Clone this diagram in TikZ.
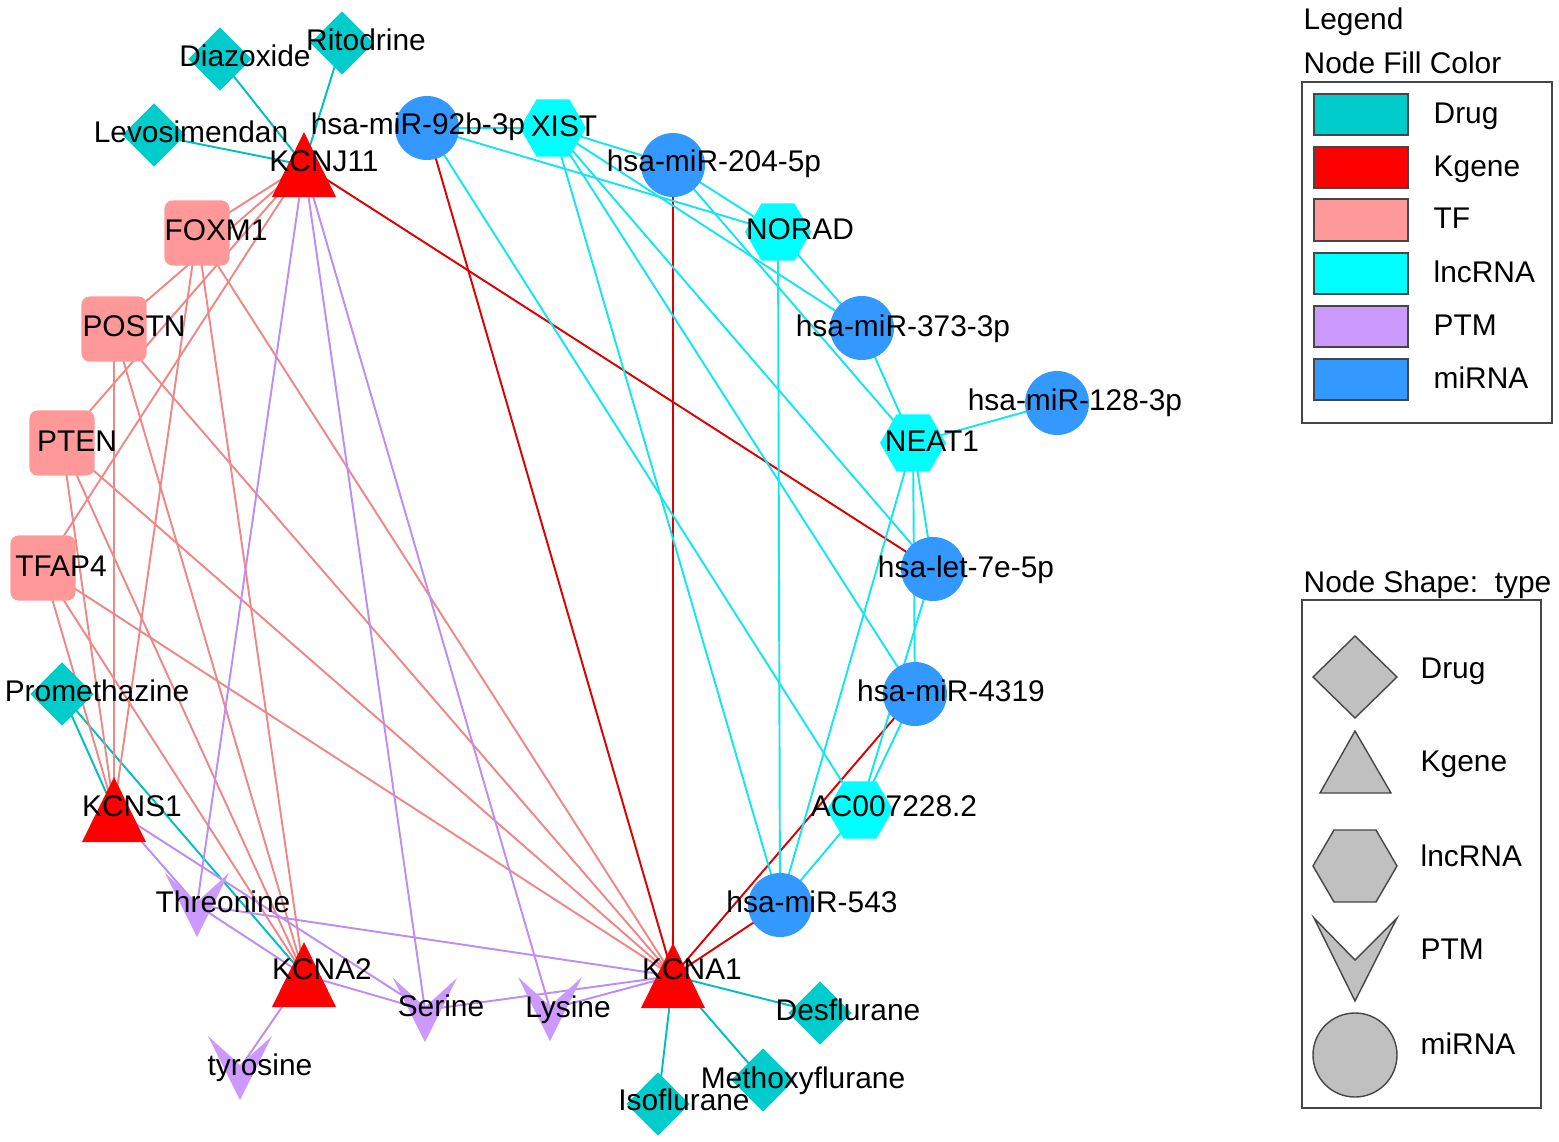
\documentclass[tikz,border=0pt]{standalone}
\usepackage{fontspec}
\setmainfont{Liberation Sans}
\usetikzlibrary{shapes.geometric}
\definecolor{drugc}{RGB}{0,204,204}
\definecolor{kc}{RGB}{255,0,0}
\definecolor{tfc}{RGB}{255,153,153}
\definecolor{lncc}{RGB}{0,255,255}
\definecolor{ptmc}{RGB}{204,153,255}
\definecolor{mic}{RGB}{51,153,255}
\definecolor{drugedge}{RGB}{0,190,195}
\definecolor{tfedge}{RGB}{240,135,135}
\definecolor{lncedge}{RGB}{20,230,240}
\definecolor{ptmedge}{RGB}{190,140,245}
\definecolor{kedge}{RGB}{220,0,0}
\definecolor{legfill}{RGB}{192,192,192}
\definecolor{legline}{RGB}{70,70,70}
\pgfdeclarelayer{edges}
\pgfsetlayers{edges,main}
\begin{document}
\begin{tikzpicture}[x=0.01cm,y=-0.01cm,
  font=\fontsize{8.5}{10}\selectfont,
  hid/.style={inner sep=0,minimum size=0.64cm},
  mirna/.style={circle,fill=mic,inner sep=0,minimum size=0.64cm},
  lnc/.style={regular polygon,regular polygon sides=6,fill=lncc,inner sep=0,minimum size=0.66cm},
  drug/.style={diamond,fill=drugc,inner sep=0,minimum width=0.64cm,minimum height=0.64cm},
  tf/.style={rectangle,rounded corners=0.08cm,fill=tfc,inner sep=0,minimum size=0.65cm},
  lab/.style={anchor=base,inner sep=0},
  llab/.style={anchor=base west,inner sep=0},
  ktri/.pic={\fill[kc] (-32,32) -- (0,-33) -- (32,32) -- cycle;},
  chev/.pic={\fill[ptmc] (-32,-32) -- (0,-3) -- (32,-32) -- (0,32) -- cycle;},
  edg/.style={line width=0.55pt},
  legbox/.style={draw=legline,line width=0.5pt},
  swatch/.style={draw=legline,line width=0.4pt},
  legshape/.style={fill=legfill,draw=legline,line width=0.4pt}
]
\useasboundingbox (0,0) rectangle (1559,1142);

% ---------- nodes ----------
\node[drug] (diaz) at (220,59) {};
\node[drug] (rito) at (342,43) {};
\node[drug] (levo) at (154,135) {};
\node[drug] (prom) at (62,694) {};
\node[drug] (desf) at (820,1013) {};
\node[drug] (meth) at (763,1080) {};
\node[drug] (isof) at (658,1104) {};

\node[tf] (foxm1) at (197,233) {};
\node[tf] (postn) at (114,329) {};
\node[tf] (pten) at (62,443) {};
\node[tf] (tfap4) at (43,568) {};

\node[mirna] (m92b) at (427,128) {};
\node[mirna] (m204) at (673,165) {};
\node[mirna] (m373) at (862,328) {};
\node[mirna] (m128) at (1057,403) {};
\node[mirna] (let7e) at (933,569) {};
\node[mirna] (m4319) at (915,694) {};
\node[mirna] (m543) at (780,905) {};

\node[lnc] (xist) at (553,128) {};
\node[lnc] (norad) at (778,232) {};
\node[lnc] (neat1) at (913,443) {};
\node[lnc] (ac) at (860,810) {};

\node[hid] (kj11) at (304,165) {};
\node[hid] (ks1) at (114,810) {};
\node[hid] (ka2) at (304,975) {};
\node[hid] (ka1) at (673,976) {};
\pic at (kj11) {ktri};
\pic at (ks1) {ktri};
\pic at (ka2) {ktri};
\pic at (ka1) {ktri};

\node[hid] (thr) at (197,905) {};
\node[hid] (ser) at (425,1010) {};
\node[hid] (lys) at (550,1009) {};
\node[hid] (tyr) at (240,1068) {};
\pic at (thr) {chev};
\pic at (ser) {chev};
\pic at (lys) {chev};
\pic at (tyr) {chev};

% ---------- edges ----------
\begin{pgfonlayer}{edges}
\foreach \a/\b in {diaz/kj11,rito/kj11,levo/kj11,prom/ks1,prom/ka2,desf/ka1,meth/ka1,isof/ka1}
  \draw[edg,drugedge] (\a.center) -- (\b.center);
\foreach \a in {foxm1,postn,pten,tfap4}
  \foreach \b in {kj11,ks1,ka2,ka1}
    \draw[edg,tfedge] (\a.center) -- (\b.center);
\foreach \a/\b in {kj11/thr,kj11/ser,kj11/lys,ks1/thr,ks1/ser,ka2/thr,ka2/ser,ka2/tyr,ka1/thr,ka1/ser,ka1/lys}
  \draw[edg,ptmedge] (\a.center) -- (\b.center);
\foreach \a/\b in {kj11/let7e,m92b/ka1,m204/ka1,m4319/ka1,m543/ka1}
  \draw[edg,kedge] (\a.center) -- (\b.center);
\foreach \a/\b in {m92b/xist,m92b/norad,m92b/ac,xist/m204,xist/m373,xist/let7e,xist/m4319,xist/m543,m204/norad,m204/neat1,norad/m373,norad/m543,m373/neat1,m128/neat1,neat1/let7e,neat1/m4319,neat1/m543,ac/let7e,ac/m4319,ac/m543}
  \draw[edg,lncedge] (\a.center) -- (\b.center);
\end{pgfonlayer}

% ---------- labels ----------
\node[lab] (tdiaz) at (245,66) {Diazoxide};
\node[lab] (trito) at (366,50) {Ritodrine};
\node[lab] (tlevo) at (191,142) {Levosimendan};
\node[lab] (tkj11) at (324,171) {KCNJ11};
\node[lab] (tm92b) at (418,134) {hsa-miR-92b-3p};
\node[lab] (txist) at (564,136) {XIST};
\node[lab] (tm204) at (714,171) {hsa-miR-204-5p};
\node[lab] (tnorad) at (800,239) {NORAD};
\node[lab] (tm373) at (903,336) {hsa-miR-373-3p};
\node[lab] (tm128) at (1075,410) {hsa-miR-128-3p};
\node[lab] (tneat1) at (932,451) {NEAT1};
\node[lab] (tlet7e) at (966,577) {hsa-let-7e-5p};
\node[lab] (tm4319) at (951,701) {hsa-miR-4319};
\node[lab] (tac) at (894,816) {AC007228.2};
\node[lab] (tm543) at (812,912) {hsa-miR-543};
\node[lab] (tka1) at (692,979) {KCNA1};
\node[lab] (tdesf) at (848,1020) {Desflurane};
\node[lab] (tmeth) at (803,1088) {Methoxyflurane};
\node[lab] (tisof) at (684,1110) {Isoflurane};
\node[lab] (tlys) at (568,1017) {Lysine};
\node[lab] (tser) at (441,1016) {Serine};
\node[lab] (ttyr) at (260,1075) {tyrosine};
\node[lab] (tka2) at (322,979) {KCNA2};
\node[lab] (tthr) at (223,912) {Threonine};
\node[lab] (tks1) at (132,816) {KCNS1};
\node[lab] (tprom) at (97,701) {Promethazine};
\node[lab] (ttfap4) at (61,576) {TFAP4};
\node[lab] (tpten) at (77,451) {PTEN};
\node[lab] (tpostn) at (134,336) {POSTN};
\node[lab] (tfoxm1) at (216,240) {FOXM1};

% ---------- legend ----------
\node[llab] (lgt) at (1303,29) {Legend};
\node[llab] (lgf) at (1303,73) {Node Fill Color};
\draw[legbox] (1302,82) rectangle (1552,423);
\draw[swatch,fill=drugc] (1314,94) rectangle (1408,135);
\draw[swatch,fill=kc] (1314,147) rectangle (1408,188);
\draw[swatch,fill=tfc] (1314,199) rectangle (1408,241);
\draw[swatch,fill=lncc] (1314,253) rectangle (1408,294);
\draw[swatch,fill=ptmc] (1314,306) rectangle (1408,347);
\draw[swatch,fill=mic] (1314,359) rectangle (1408,400);
\node[llab] at (1433,123) {Drug};
\node[llab] at (1433,176) {Kgene};
\node[llab] at (1433,228) {TF};
\node[llab] at (1433,282) {lncRNA};
\node[llab] at (1433,335) {PTM};
\node[llab] at (1433,388) {miRNA};

\node[llab] (lgs) at (1303,592) {Node Shape:\ \ type};
\draw[legbox] (1302,600) rectangle (1541,1108);
\filldraw[legshape] (1355,636) -- (1397,677) -- (1355,718) -- (1313,677) -- cycle;
\filldraw[legshape] (1320,793) -- (1355,731) -- (1391,793) -- cycle;
\filldraw[legshape] (1313,866) -- (1334,830) -- (1376,830) -- (1397,866) -- (1376,902) -- (1334,902) -- cycle;
\filldraw[legshape] (1314,918) -- (1355,960) -- (1397,918) -- (1355,1001) -- cycle;
\filldraw[legshape] (1355,1055) circle[radius=42];
\node[llab] at (1420,678) {Drug};
\node[llab] at (1420,771) {Kgene};
\node[llab] at (1420,866) {lncRNA};
\node[llab] at (1420,959) {PTM};
\node[llab] at (1420,1054) {miRNA};
\end{tikzpicture}
\end{document}
